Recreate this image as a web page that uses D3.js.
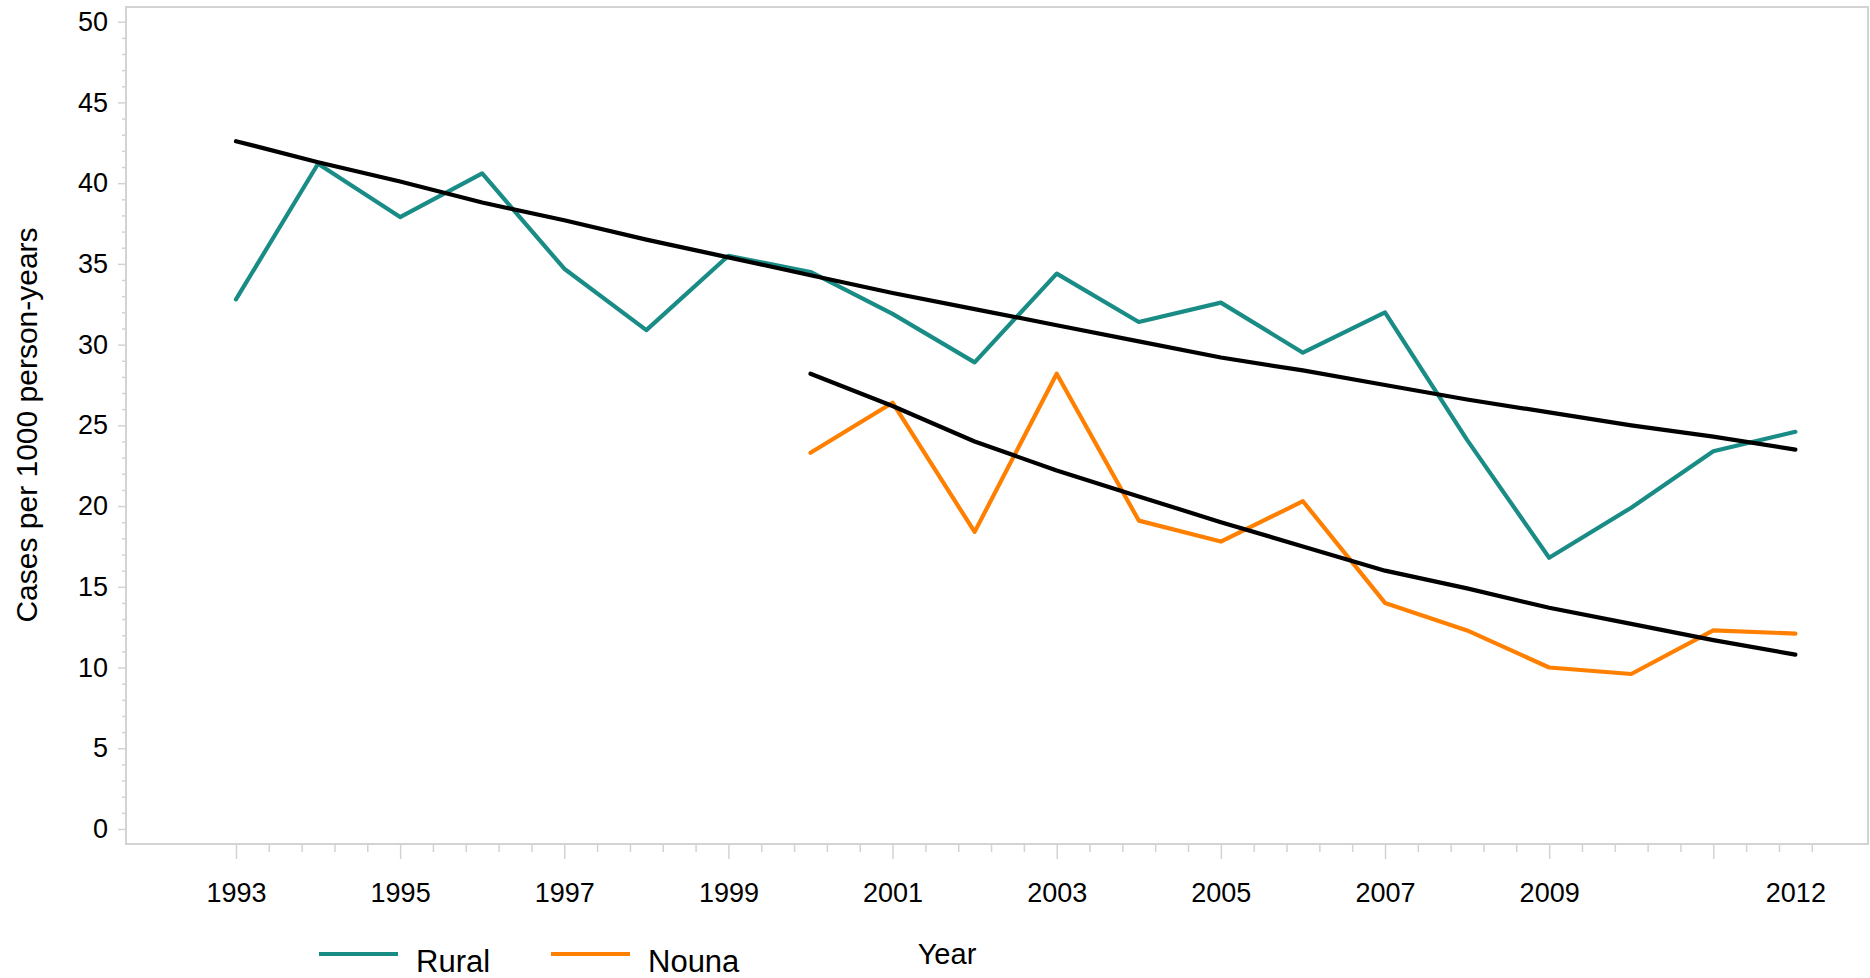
<!DOCTYPE html>
<html>
<head>
<meta charset="utf-8">
<script src="https://cdn.jsdelivr.net/npm/d3@7"></script>
<style>
  body { margin: 0; background: #fff; }
  text { font-family: "Liberation Sans", Arial, sans-serif; fill: #000; }
</style>
</head>
<body>
<div id="chart"></div>
<script>
const ruralYears = [1993, 1994, 1995, 1996, 1997, 1998, 1999, 2000, 2001, 2002,
                    2003, 2004, 2005, 2006, 2007, 2008, 2009, 2010, 2011, 2012];
const ruralRate = [32.8, 41.2, 37.9, 40.6, 34.7, 30.9, 35.5, 34.5, 31.9, 28.9,
                   34.4, 31.4, 32.6, 29.5, 32.0, 24.1, 16.8, 19.9, 23.4, 24.6];
const ruralTrend = [42.6, 41.3, 40.1, 38.8, 37.7, 36.5, 35.4, 34.3, 33.2, 32.2,
                    31.2, 30.2, 29.2, 28.4, 27.5, 26.6, 25.8, 25.0, 24.3, 23.5];

const nounaYears = [2000, 2001, 2002, 2003, 2004, 2005, 2006, 2007, 2008, 2009, 2010, 2011, 2012];
const nounaRate = [23.3, 26.4, 18.4, 28.2, 19.1, 17.8, 20.3, 14.0, 12.3, 10.0, 9.6, 12.3, 12.1];
const nounaTrend = [28.2, 26.2, 24.0, 22.2, 20.6, 19.0, 17.5, 16.0, 14.9, 13.7, 12.7, 11.7, 10.8];

const xLabelYears = [1993, 1995, 1997, 1999, 2001, 2003, 2005, 2007, 2009, 2012];
const xMajorYears = [1993, 1995, 1997, 1999, 2001, 2003, 2005, 2007, 2009, 2011];
const yMajor = [0, 5, 10, 15, 20, 25, 30, 35, 40, 45, 50];

const teal = "#1a8c86";
const orange = "#ff8000";
const frame = "#d3d3d3";

const width = 1870, height = 978;
const plotLeft = 126, plotRight = 1868, plotTop = 7, plotBottom = 844;

const svg = d3.select("#chart").append("svg")
    .attr("width", width)
    .attr("height", height);

const x = d3.scaleLinear().domain([1991.66, 2012.885]).range([plotLeft, plotRight]);
const y = d3.scaleLinear().domain([-0.93, 50.91]).range([plotBottom, plotTop]);

// frame
svg.append("rect")
    .attr("x", plotLeft).attr("y", plotTop)
    .attr("width", plotRight - plotLeft).attr("height", plotBottom - plotTop)
    .attr("fill", "none").attr("stroke", frame).attr("stroke-width", 2);

// y axis ticks
const yMinor = d3.range(0, 51).filter(v => v % 5 != 0);
svg.append("g")
    .attr("transform", `translate(${plotLeft},0)`)
    .call(d3.axisLeft(y).tickValues(yMinor).tickSize(4).tickFormat(""))
    .call(g => g.select(".domain").remove());
svg.append("g")
    .attr("transform", `translate(${plotLeft},0)`)
    .call(d3.axisLeft(y).tickValues(yMajor).tickSize(8).tickPadding(10))
    .call(g => g.select(".domain").remove())
    .call(g => g.selectAll("text").attr("font-size", 27).attr("font-family", null));

// x axis ticks
const xMinor = d3.range(0, 49).map(i => 1993 + i * 0.4).filter((v, i) => i % 5 != 0);
const gx = svg.append("g").attr("transform", `translate(0,${plotBottom})`);
gx.append("g")
    .call(d3.axisBottom(x).tickValues(xMinor).tickSize(8).tickFormat(""))
    .call(g => g.select(".domain").remove());
gx.append("g")
    .call(d3.axisBottom(x).tickValues(xMajorYears).tickSize(15).tickFormat(""))
    .call(g => g.select(".domain").remove());
gx.append("g")
    .call(d3.axisBottom(x).tickValues(xLabelYears).tickSize(0).tickFormat(d3.format("d")))
    .call(g => g.select(".domain").remove())
    .call(g => g.selectAll("text").attr("y", 58).attr("dy", null)
        .attr("font-size", 27).attr("font-family", null));
svg.selectAll(".tick line").attr("stroke", frame).attr("stroke-width", 1.5);

// lines
const line = d3.line().x(d => x(d[0])).y(d => y(d[1]));
const series = [
    { pts: d3.zip(ruralYears, ruralRate), color: teal },
    { pts: d3.zip(nounaYears, nounaRate), color: orange },
    { pts: d3.zip(ruralYears, ruralTrend), color: "#000" },
    { pts: d3.zip(nounaYears, nounaTrend), color: "#000" }
];
svg.selectAll("path.series")
    .data(series)
    .enter()
    .append("path")
    .attr("class", "series")
    .attr("d", d => line(d.pts))
    .attr("fill", "none")
    .attr("stroke", d => d.color)
    .attr("stroke-width", 4.2)
    .attr("stroke-linecap", "round")
    .attr("stroke-linejoin", "round");

// axis titles
svg.append("text")
    .attr("transform", "translate(37,425) rotate(-90)")
    .attr("text-anchor", "middle")
    .attr("font-size", 30)
    .text("Cases per 1000 person-years");

svg.append("text")
    .attr("x", 947).attr("y", 964)
    .attr("text-anchor", "middle")
    .attr("font-size", 29)
    .text("Year");

// legend
const legend = [
    { name: "Rural", color: teal, x0: 319 },
    { name: "Nouna", color: orange, x0: 551 }
];
const lg = svg.selectAll("g.legend").data(legend).enter().append("g").attr("class", "legend");
lg.append("line")
    .attr("x1", d => d.x0).attr("x2", d => d.x0 + 79)
    .attr("y1", 954).attr("y2", 954)
    .attr("stroke", d => d.color).attr("stroke-width", 4);
lg.append("text")
    .attr("x", d => d.x0 + 97).attr("y", 972)
    .attr("font-size", 31)
    .text(d => d.name);
</script>
</body>
</html>
